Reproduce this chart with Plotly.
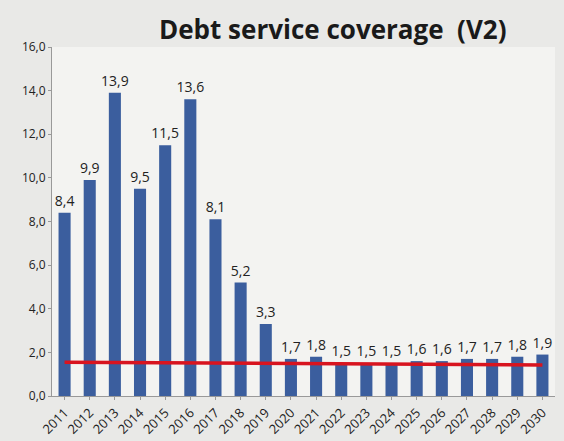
import plotly.graph_objects as go

years = [str(y) for y in range(2011, 2031)]
coverage = [8.4, 9.9, 13.9, 9.5, 11.5, 13.6, 8.1, 5.2, 3.3, 1.7, 1.8, 1.5, 1.5, 1.5, 1.6, 1.6, 1.7, 1.7, 1.8, 1.9]
labels = [f"{v:.1f}".replace(".", ",") for v in coverage]
threshold_years = ["2011", "2030"]
threshold_values = [1.55, 1.42]
y_ticks = [0, 2, 4, 6, 8, 10, 12, 14, 16]
y_tick_text = [f"{v:.1f}".replace(".", ",") for v in y_ticks]

fig = go.Figure()
fig.add_trace(go.Bar(
    x=years, y=coverage, text=labels, textposition="outside",
    constraintext="none",
    textfont=dict(family="Open Sans", size=14, color="#222222"),
    marker=dict(color="#3b5e9e", line=dict(width=0)),
    width=0.48, cliponaxis=False, showlegend=False,
))
fig.add_trace(go.Scatter(
    x=threshold_years, y=threshold_values, mode="lines",
    line=dict(color="#d8141f", width=3.5), showlegend=False,
))
fig.update_layout(
    width=564, height=441,
    margin=dict(l=52, r=9, t=47, b=45),
    paper_bgcolor="#e9e9e7", plot_bgcolor="#f3f3f1",
    title=dict(text="<b>Debt service coverage  (V2)</b>", x=0.59, xanchor="center",
               y=0.932, yanchor="middle",
               font=dict(family="Open Sans", size=26, color="#1a1a1a")),
    font=dict(family="Open Sans", color="#222222"),
)
fig.update_xaxes(
    type="category", tickangle=-45, showgrid=False, automargin=False,
    tickfont=dict(family="Open Sans", size=13, color="#222222"),
    showline=True, linecolor="#999999", ticks="outside", ticklen=3, tickcolor="#999999",
)
fig.update_yaxes(
    range=[0, 16], tickvals=y_ticks, ticktext=y_tick_text, showgrid=False, automargin=False,
    tickfont=dict(family="Open Sans", size=12, color="#222222"),
    showline=True, linecolor="#999999", ticks="outside", ticklen=3, tickcolor="#999999",
    zeroline=False,
)
fig.write_html("out.html", post_script="document.body.style.margin='0';",
               config={"displayModeBar": False})
